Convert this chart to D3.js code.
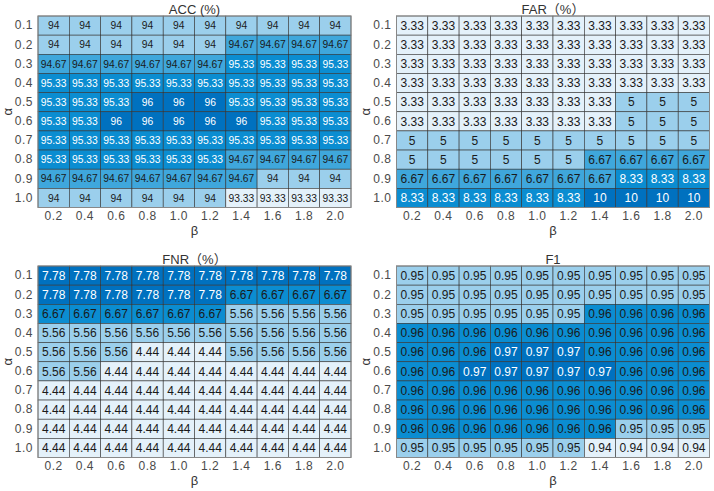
<!DOCTYPE html>
<html>
<head>
<meta charset="utf-8">
<script src="https://cdn.jsdelivr.net/npm/d3@7"></script>
<style>
  body { margin: 0; background: #fff; }
  svg { display: block; font-family: "Liberation Sans", Arial, "Noto Sans CJK SC", sans-serif; }
</style>
</head>
<body>
<div id="chart"></div>
<script>
const alphaLabels = ['0.1', '0.2', '0.3', '0.4', '0.5', '0.6', '0.7', '0.8', '0.9', '1.0'];
const betaLabels = ['0.2', '0.4', '0.6', '0.8', '1.0', '1.2', '1.4', '1.6', '1.8', '2.0'];

// rows = alpha, columns = beta
const accValues = [
  [94, 94, 94, 94, 94, 94, 94, 94, 94, 94],
  [94, 94, 94, 94, 94, 94, 94.67, 94.67, 94.67, 94.67],
  [94.67, 94.67, 94.67, 94.67, 94.67, 94.67, 95.33, 95.33, 95.33, 95.33],
  [95.33, 95.33, 95.33, 95.33, 95.33, 95.33, 95.33, 95.33, 95.33, 95.33],
  [95.33, 95.33, 95.33, 96, 96, 96, 95.33, 95.33, 95.33, 95.33],
  [95.33, 95.33, 96, 96, 96, 96, 96, 95.33, 95.33, 95.33],
  [95.33, 95.33, 95.33, 95.33, 95.33, 95.33, 95.33, 95.33, 95.33, 95.33],
  [95.33, 95.33, 95.33, 95.33, 95.33, 95.33, 94.67, 94.67, 94.67, 94.67],
  [94.67, 94.67, 94.67, 94.67, 94.67, 94.67, 94.67, 94, 94, 94],
  [94, 94, 94, 94, 94, 94, 93.33, 93.33, 93.33, 93.33]
];

const farValues = [
  [3.33, 3.33, 3.33, 3.33, 3.33, 3.33, 3.33, 3.33, 3.33, 3.33],
  [3.33, 3.33, 3.33, 3.33, 3.33, 3.33, 3.33, 3.33, 3.33, 3.33],
  [3.33, 3.33, 3.33, 3.33, 3.33, 3.33, 3.33, 3.33, 3.33, 3.33],
  [3.33, 3.33, 3.33, 3.33, 3.33, 3.33, 3.33, 3.33, 3.33, 3.33],
  [3.33, 3.33, 3.33, 3.33, 3.33, 3.33, 3.33, 5, 5, 5],
  [3.33, 3.33, 3.33, 3.33, 3.33, 3.33, 3.33, 5, 5, 5],
  [5, 5, 5, 5, 5, 5, 5, 5, 5, 5],
  [5, 5, 5, 5, 5, 5, 6.67, 6.67, 6.67, 6.67],
  [6.67, 6.67, 6.67, 6.67, 6.67, 6.67, 6.67, 8.33, 8.33, 8.33],
  [8.33, 8.33, 8.33, 8.33, 8.33, 8.33, 10, 10, 10, 10]
];

const fnrValues = [
  [7.78, 7.78, 7.78, 7.78, 7.78, 7.78, 7.78, 7.78, 7.78, 7.78],
  [7.78, 7.78, 7.78, 7.78, 7.78, 7.78, 6.67, 6.67, 6.67, 6.67],
  [6.67, 6.67, 6.67, 6.67, 6.67, 6.67, 5.56, 5.56, 5.56, 5.56],
  [5.56, 5.56, 5.56, 5.56, 5.56, 5.56, 5.56, 5.56, 5.56, 5.56],
  [5.56, 5.56, 5.56, 4.44, 4.44, 4.44, 5.56, 5.56, 5.56, 5.56],
  [5.56, 5.56, 4.44, 4.44, 4.44, 4.44, 4.44, 4.44, 4.44, 4.44],
  [4.44, 4.44, 4.44, 4.44, 4.44, 4.44, 4.44, 4.44, 4.44, 4.44],
  [4.44, 4.44, 4.44, 4.44, 4.44, 4.44, 4.44, 4.44, 4.44, 4.44],
  [4.44, 4.44, 4.44, 4.44, 4.44, 4.44, 4.44, 4.44, 4.44, 4.44],
  [4.44, 4.44, 4.44, 4.44, 4.44, 4.44, 4.44, 4.44, 4.44, 4.44]
];

const f1Values = [
  [0.95, 0.95, 0.95, 0.95, 0.95, 0.95, 0.95, 0.95, 0.95, 0.95],
  [0.95, 0.95, 0.95, 0.95, 0.95, 0.95, 0.95, 0.95, 0.95, 0.95],
  [0.95, 0.95, 0.95, 0.95, 0.95, 0.95, 0.96, 0.96, 0.96, 0.96],
  [0.96, 0.96, 0.96, 0.96, 0.96, 0.96, 0.96, 0.96, 0.96, 0.96],
  [0.96, 0.96, 0.96, 0.97, 0.97, 0.97, 0.96, 0.96, 0.96, 0.96],
  [0.96, 0.96, 0.97, 0.97, 0.97, 0.97, 0.97, 0.96, 0.96, 0.96],
  [0.96, 0.96, 0.96, 0.96, 0.96, 0.96, 0.96, 0.96, 0.96, 0.96],
  [0.96, 0.96, 0.96, 0.96, 0.96, 0.96, 0.96, 0.96, 0.96, 0.96],
  [0.96, 0.96, 0.96, 0.96, 0.96, 0.96, 0.96, 0.95, 0.95, 0.95],
  [0.95, 0.95, 0.95, 0.95, 0.95, 0.95, 0.94, 0.94, 0.94, 0.94]
];

const width = 714;
const height = 491;
const palette = ['#e4f1fa', '#9bcfec', '#3fa7dc', '#0b8dd1', '#0071bf'];

const panels = [
  { title: 'ACC (%)', values: accValues, left: 38, top: 16, fontSize: 10.3 },
  { title: 'FAR（%）', values: farValues, left: 396.5, top: 16, fontSize: 12 },
  { title: 'FNR（%）', values: fnrValues, left: 38, top: 266, fontSize: 12 },
  { title: 'F1', values: f1Values, left: 396.5, top: 266, fontSize: 12 }
];
const gridW = 313;
const gridH = 191.5;

const svg = d3.select('#chart')
  .append('svg')
  .attr('width', width)
  .attr('height', height);

panels.forEach(p => {
  const g = svg.append('g').attr('transform', `translate(${p.left},${p.top})`);

  const x = d3.scaleBand().domain(betaLabels).range([0, gridW]);
  const y = d3.scaleBand().domain(alphaLabels).range([0, gridH]);

  const flat = p.values.flat();
  const t = d3.scaleLinear().domain(d3.extent(flat)).range([0, 1]);
  const color = d3.scaleQuantize().domain([0, 1]).range(palette);

  const cells = [];
  p.values.forEach((row, i) => row.forEach((v, j) => {
    cells.push({ a: alphaLabels[i], b: betaLabels[j], v });
  }));

  g.selectAll('rect.cell')
    .data(cells)
    .enter()
    .append('rect')
    .attr('class', 'cell')
    .attr('x', d => x(d.b))
    .attr('y', d => y(d.a))
    .attr('width', x.bandwidth())
    .attr('height', y.bandwidth())
    .attr('fill', d => color(Math.min(t(d.v), 0.9999)))
    .attr('stroke', '#353535')
    .attr('stroke-width', 0.6);

  g.selectAll('text.val')
    .data(cells)
    .enter()
    .append('text')
    .attr('class', 'val')
    .attr('x', d => x(d.b) + x.bandwidth() / 2)
    .attr('y', d => y(d.a) + y.bandwidth() / 2)
    .attr('dy', '0.36em')
    .attr('text-anchor', 'middle')
    .style('font-size', p.fontSize + 'px')
    .style('fill', d => t(d.v) > 0.7 ? '#ffffff' : '#1a1a1a')
    .text(d => d.v);

  g.append('rect')
    .attr('width', gridW)
    .attr('height', gridH)
    .attr('fill', 'none')
    .attr('stroke', '#888')
    .attr('stroke-width', 1);

  const yAxis = g.append('g')
    .call(d3.axisLeft(y).tickSize(0).tickPadding(5));
  yAxis.select('.domain').remove();
  yAxis.selectAll('text')
    .style('font-size', '12px')
    .style('fill', '#4a4a4a')
    .style('letter-spacing', '0.5px');

  const xAxis = g.append('g')
    .attr('transform', `translate(0,${gridH})`)
    .call(d3.axisBottom(x).tickSize(0).tickPadding(4));
  xAxis.select('.domain').remove();
  xAxis.selectAll('text')
    .style('font-size', '12px')
    .style('fill', '#4a4a4a')
    .style('letter-spacing', '0.5px');

  g.append('text')
    .attr('x', gridW / 2)
    .attr('y', -7)
    .attr('dy', '0.36em')
    .attr('text-anchor', 'middle')
    .style('font-size', '13px')
    .style('fill', '#333')
    .text(p.title);

  g.append('text')
    .attr('x', gridW / 2)
    .attr('y', gridH + 23)
    .attr('dy', '0.36em')
    .attr('text-anchor', 'middle')
    .style('font-size', '13px')
    .style('fill', '#333')
    .text('β');

  g.append('text')
    .attr('transform', `translate(-31,${gridH / 2}) rotate(-90)`)
    .attr('text-anchor', 'middle')
    .attr('dy', '0.36em')
    .style('font-size', '13px')
    .style('fill', '#333')
    .text('α');
});
</script>
</body>
</html>
